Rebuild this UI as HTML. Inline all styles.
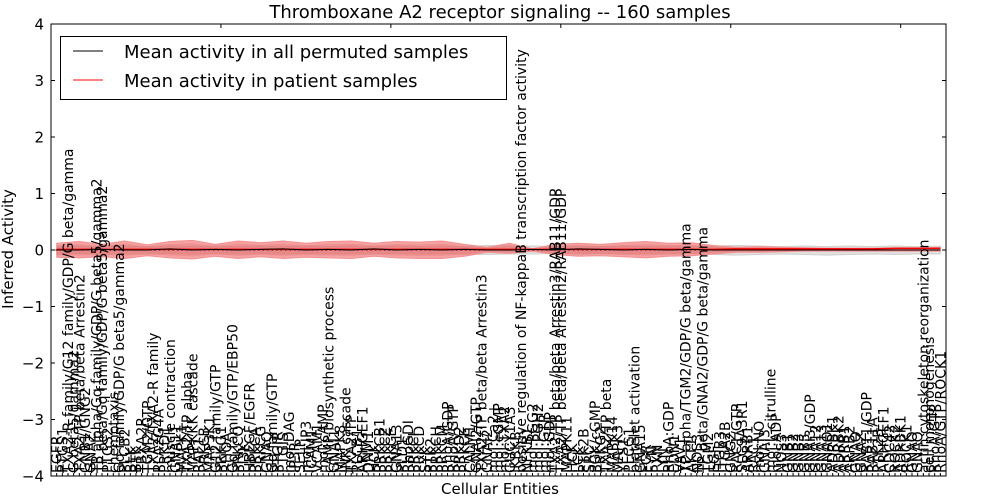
<!DOCTYPE html>
<html><head><meta charset="utf-8"><style>
html,body{margin:0;padding:0;background:#fff;}
svg{display:block;font-family:"DejaVu Sans","Liberation Sans",sans-serif;}
</style></head><body>
<svg id="chart" width="1000" height="500" viewBox="0 0 1000 500" xmlns="http://www.w3.org/2000/svg">
<rect x="0" y="0" width="1000" height="500" fill="#fff"/>
<text x="500" y="18" font-size="18" text-anchor="middle">Thromboxane A2 receptor signaling -- 160 samples</text>
<g id="bands"></g>
<g id="lines"></g>
<g id="xlabels"></g>
<g id="yaxis"></g>
<rect x="51" y="24" width="895" height="452" fill="none" stroke="#000" stroke-width="1"/>
<text transform="translate(13,249) rotate(-90)" font-size="15" text-anchor="middle">Inferred Activity</text>
<text x="500" y="494" font-size="15" text-anchor="middle">Cellular Entities</text>
<g>
<rect x="60.5" y="36.5" width="446" height="63" fill="#fff" stroke="#000" stroke-width="1"/>
<line x1="73" y1="51" x2="103" y2="51" stroke="#000" stroke-width="1"/>
<text x="124" y="58" font-size="18">Mean activity in all permuted samples</text>
<line x1="73" y1="80" x2="103" y2="80" stroke="#f00" stroke-width="1"/>
<text x="124" y="87" font-size="18">Mean activity in patient samples</text>
</g>
</svg>
<script>
const categories = ["EGFR","PTGS1","TXA2-R family/G12 family/GDP/G beta/gamma","G beta5/gamma2","TXA2/TP beta/beta Arrestin2","GNB1/GNG2","GNAZ","TP alpha/Gq family/GDP/G beta5/gamma2","TP beta/Gq family/GDP/G beta5/gamma2","PTGS2",
"chemotaxis","Gq family/GDP/G beta5/gamma2","PLCB2","BLK","BTK","TBXA2R","TGM2/GTP","TXA2/TXA2-R family","PLA2G4A","PRKD1",
"muscle contraction","GNA11","MAPK1","TXA2/TP alpha","MAPKKK cascade","RAF1","PRKCB","MAP3K1","G12 family/GTP","PRKG1",
"RHOA","Gq family/GTP/EBP50","PRKCQ","PI3K","HBEGF/EGFR","PRKCA","PRKCG","GNAQ","Gq family/GTP","PTGIR",
"PTGIS","mol:DAG","IP3R","SELP","mol:IP3","ICAM1","VCAM1","mol:cAMP","cAMP biosynthetic process","GNAI1",
"MAPK8","JNK cascade","TXA2/TP","PLCB1","ARHGEF1","DNM1","HCK","PRKCB1","PRKCZ","PRKCE",
"GNA13","PLD1","RhoGDI","PRKCI","PRKCD","SYK","PTK2","PRKCH","PRKCM","RhoA/GDP",
"RhoA/GTP","PRKD2","PRKCE","CALM1","GNAI2/GTP","TXA2/TP beta/beta Arrestin3","GNAI2","mol:Ca2+","mol:cGMP","mol:TXA2",
"GUCY1A3","IKBKB","positive regulation of NF-kappaB transcription factor activity","NFKB1","mol:PGG2","mol:PGH2","mol:GTP","mol:GDP","TXA2/TP beta/beta Arrestin3/RAB11/GDP","TXA2/TP beta/beta Arrestin2/RAB11/GDP",
"MAPK11","HCK","LCK","PTK2B","SRC","PGK/cGMP","PRKG2","TXA2/TP beta","MAPK14","MAPK3",
"YES1","PLCG1","platelet activation","GNA15","FGR","FYN","PXN","LYN","RhoA:GDP","EDN1",
"VAV1","TP alpha/TGM2/GDP/G beta/gamma","AKT1","NOS3","TP beta/GNAI2/GDP/G beta/gamma","TGM2","EGF","ITGB3","ITGA2B","GNG2",
"RAC1/GTP","SLC9A3R1","ARRB1","RAC1","mol:NO","GNAI3","mol:L-citrulline","mol:ADP","NOS3","GNB1",
"GNB2","GNB3","GNB5","GNAI3/GDP","GNA12","GNA13","GNAO1","ADRBK1","ADRBK2","ARRB1",
"ARRB2","GNAQ","GNAZ","RAB11/GDP","RAB11A","PTK2B","ARHGEF1","CDC42","ROCK2","ADRBK1",
"ROCK1","GNAO","GNAQ","actin cytoskeleton reorganization","cell morphogenesis","RhoA/GTP","RhoA/GTP/ROCK1"];
const bandIndex = [1,5,9,13,17,21,25,29,33,37,41,45,49,53,57,61,65,69,73,77,81,85,89,93,97,101,105,109,113,117,121,125,129,133,137,141,145,149,153,157];
const patientUpper = [0.12,0.15,0.10,0.16,0.09,0.15,0.17,0.10,0.16,0.13,0.16,0.12,0.15,0.16,0.12,0.15,0.14,0.16,0.10,0.05,0.12,0.02,0.10,0.12,0.10,0.13,0.15,0.12,0.13,0.08,0.05,0.06,0.05,0.04,0.03,0.03,0.03,0.03,0.03,0.04];
const patientLower = [-0.13,-0.14,-0.12,-0.15,-0.10,-0.14,-0.16,-0.11,-0.15,-0.12,-0.15,-0.13,-0.14,-0.15,-0.11,-0.14,-0.15,-0.15,-0.11,-0.04,-0.06,-0.02,-0.08,-0.11,-0.10,-0.12,-0.14,-0.11,-0.10,-0.07,-0.04,-0.04,-0.03,-0.02,-0.02,-0.02,-0.02,-0.02,-0.02,-0.02];
const permUpper = [0.06,0.07,0.06,0.07,0.06,0.07,0.06,0.07,0.06,0.07,0.06,0.07,0.06,0.07,0.06,0.07,0.06,0.07,0.06,0.08,0.07,0.07,0.06,0.07,0.06,0.07,0.06,0.07,0.06,0.07,0.08,0.07,0.06,0.07,0.06,0.07,0.06,0.07,0.06,0.07];
const permLower = [-0.07,-0.06,-0.07,-0.06,-0.07,-0.06,-0.07,-0.06,-0.07,-0.06,-0.07,-0.06,-0.07,-0.06,-0.07,-0.06,-0.07,-0.06,-0.07,-0.08,-0.07,-0.07,-0.06,-0.07,-0.06,-0.07,-0.06,-0.07,-0.06,-0.08,-0.09,-0.08,-0.07,-0.08,-0.09,-0.08,-0.07,-0.08,-0.07,-0.07];
const permMean = [0.0,0.0,0.01,0.0,0.0,0.02,0.0,0.01,0.0,0.01,0.02,0.0,0.01,0.0,0.02,0.0,0.01,0.0,0.01,0.0,0.0,0.01,0.0,0.02,0.01,0.0,0.01,0.0,0.01,0.0,0.0,0.0,0.0,0.0,0.0,0.0,0.0,0.0,0.0,0.0];
const patientMean = [0.01,0.01,0.01,0.01,0.01,0.01,0.01,0.01,0.01,0.01,0.01,0.01,0.01,0.01,0.01,0.01,0.01,0.01,0.01,0.01,0.01,0.01,0.01,0.01,0.01,0.01,0.01,0.01,0.01,0.01,0.02,0.02,0.02,0.02,0.02,0.02,0.02,0.03,0.03,0.03];
const yTicks = [-4,-3,-2,-1,0,1,2,3,4];

const NS = "http://www.w3.org/2000/svg";
const X0 = 51, X1 = 946, Y0 = 24, Y1 = 476;
const xMax = categories.length + 1;
function xs(i){ return X0 + i * (X1 - X0) / xMax; }
function ys(v){ return Y1 - (v + 4) * (Y1 - Y0) / 8; }
function mk(tag, attrs){ const e = document.createElementNS(NS, tag); for (const k in attrs) e.setAttribute(k, attrs[k]); return e; }

function bandPath(up, lo){
  let d = "";
  bandIndex.forEach((ix, k) => { d += (k ? "L" : "M") + xs(ix).toFixed(1) + "," + ys(up[k]).toFixed(1); });
  for (let k = bandIndex.length - 1; k >= 0; k--) d += "L" + xs(bandIndex[k]).toFixed(1) + "," + ys(lo[k]).toFixed(1);
  return d + "Z";
}
function linePath(vals){
  let d = "";
  bandIndex.forEach((ix, k) => { d += (k ? "L" : "M") + xs(ix).toFixed(1) + "," + ys(vals[k]).toFixed(1); });
  return d;
}
const bands = document.getElementById("bands");
const gb = mk("path", {d: bandPath(permUpper, permLower), fill: "#d8d8d8", "fill-opacity": "0.8", stroke: "#d0d0d0"});


bands.appendChild(gb);
const rb = mk("path", {d: bandPath(patientUpper, patientLower), fill: "#f07070", "fill-opacity": "0.65", stroke: "#f49090", "stroke-width": "1"});


bands.appendChild(rb);
const innerUp = patientUpper.map(v => v * 0.7);
const innerLo = patientLower.map(v => v * 0.7);
const rb2 = mk("path", {d: bandPath(innerUp, innerLo), fill: "#e06a6a", "fill-opacity": "0.3", stroke: "none"});


bands.appendChild(rb2);

const lines = document.getElementById("lines");
const zl = mk("line", {x1: X0, x2: X1, y1: ys(0), y2: ys(0), stroke: "#000", "stroke-dasharray": "1.5,3", "stroke-width": "1"});


lines.appendChild(zl);
const pl = mk("path", {d: linePath(patientMean), fill: "none", stroke: "#f00", "stroke-width": "1.5"});


lines.appendChild(pl);
const bl = mk("path", {d: linePath(permMean), fill: "none", stroke: "#000", "stroke-width": "1"});


lines.appendChild(bl);

const yg = document.getElementById("yaxis");
yTicks.forEach(t => {
  const y = ys(t);
  const tk = mk("line", {x1: X0, x2: X0 + 4, y1: y, y2: y, stroke: "#000"});
  
  
  yg.appendChild(tk);
  const tk2 = mk("line", {x1: X1 - 4, x2: X1, y1: y, y2: y, stroke: "#000"});
  
  
  yg.appendChild(tk2);
  const tl = mk("text", {x: X0 - 7, y: y + 5.5, "font-size": "15", "text-anchor": "end"});
  tl.textContent = String(t).replace("-", "\u2212");
  
  
  yg.appendChild(tl);
});
[30,60,90,120,150].forEach(v => {
  const tt = mk("line", {x1: xs(v), x2: xs(v), y1: Y0, y2: Y0 + 4, stroke: "#000"});
  
  
  yg.appendChild(tt);
});

const xl = document.getElementById("xlabels");
categories.forEach((c, i) => {
  const x = xs(i + 1);
  const t = mk("text", {transform: "translate(" + (x + 5).toFixed(1) + ",473) rotate(-90)", "font-size": "14", "text-anchor": "start"});
  t.textContent = c;
  
  
  xl.appendChild(t);
  const tk = mk("line", {x1: x, x2: x, y1: Y1, y2: Y1 - 3, stroke: "#000"});
  
  
  xl.appendChild(tk);
});
</script>
</body></html>
